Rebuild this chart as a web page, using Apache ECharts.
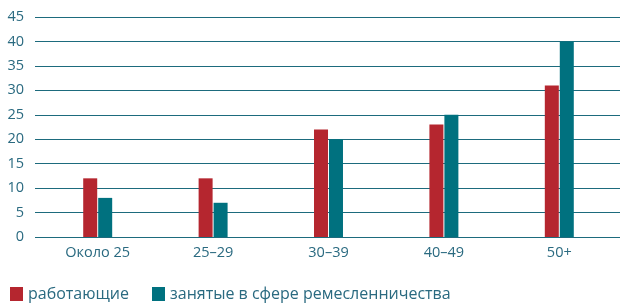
<!DOCTYPE html>
<html><head><meta charset="utf-8">
<script src="https://cdn.jsdelivr.net/npm/echarts@6/dist/echarts.min.js"></script>
<style>html,body{margin:0;padding:0;background:#fff}#c{width:620px;height:303px}</style>
</head><body><div id="c"></div>
<script>
const categories = ['Около 25', '25–29', '30–39', '40–49', '50+'];
const workers = [12, 12, 22, 23, 31];
const craftsmen = [8, 7, 20, 25, 40];
const seriesNames = ['работающие', 'занятые в сфере ремесленничества'];
const yMin = 0, yMax = 45, yStep = 5;

const txt = '#2a6a80';
const font = 'Open Sans';
const chart = echarts.init(document.getElementById('c'), null, {renderer: 'canvas'});
chart.setOption({
  animation: false,
  textStyle: {fontFamily: font},
  grid: [
    {left: 35, right: 0, top: 17, bottom: 66},
    {left: 40, right: 3, top: 17, bottom: 66}
  ],
  legend: {
    left: 5, top: 281, itemWidth: 13, itemHeight: 14, itemGap: 23,
    icon: 'rect',
    textStyle: {color: txt, fontSize: 16, fontFamily: font},
    data: seriesNames
  },
  xAxis: [
    {type: 'category', gridIndex: 0, data: categories, show: false},
    {type: 'category', gridIndex: 1, data: categories,
     axisLine: {show: false}, axisTick: {show: false},
     axisLabel: {color: txt, fontSize: 14.5, margin: 8, fontFamily: font}}
  ],
  yAxis: [
    {type: 'value', gridIndex: 0, min: yMin, max: yMax, interval: yStep,
     axisLine: {show: false}, axisTick: {show: false},
     axisLabel: {color: txt, fontSize: 14.5, margin: 11, fontFamily: font},
     splitLine: {lineStyle: {color: '#1d6b7d', width: 1.2}}},
    {type: 'value', gridIndex: 1, min: yMin, max: yMax, interval: yStep, show: false}
  ],
  series: [
    {name: seriesNames[0], type: 'bar', xAxisIndex: 1, yAxisIndex: 1, data: workers,
     barWidth: 14, barGap: '7%', itemStyle: {color: '#b5262f'}},
    {name: seriesNames[1], type: 'bar', xAxisIndex: 1, yAxisIndex: 1, data: craftsmen,
     barWidth: 14, barGap: '7%', itemStyle: {color: '#00717f'}}
  ]
});
</script></body></html>
